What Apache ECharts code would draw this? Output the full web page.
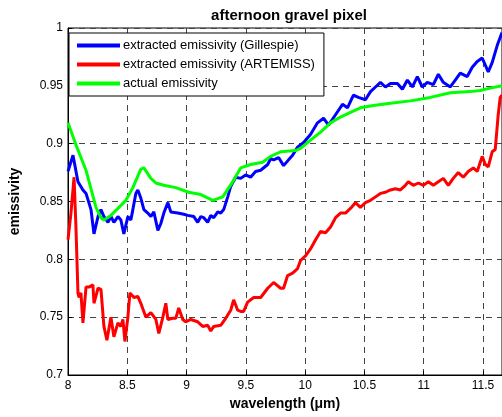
<!DOCTYPE html>
<html>
<head>
<meta charset="utf-8">
<script src="https://cdn.jsdelivr.net/npm/echarts@6/dist/echarts.min.js"></script>
<style>
  html, body { margin: 0; padding: 0; background: #fff; }
  #chart { width: 502px; height: 417px; }
</style>
</head>
<body>
<div id="chart"></div>
<script>
// wavelength (um) / emissivity pairs
const gillespie = [
  [8.000, 0.876], [8.042, 0.890], [8.084, 0.867], [8.126, 0.860], [8.152, 0.857],
  [8.194, 0.843], [8.219, 0.822], [8.253, 0.837], [8.278, 0.843], [8.303, 0.837],
  [8.337, 0.832], [8.362, 0.837], [8.387, 0.832], [8.421, 0.837], [8.446, 0.834],
  [8.471, 0.822], [8.505, 0.837], [8.530, 0.834], [8.547, 0.843], [8.572, 0.857],
  [8.589, 0.860], [8.614, 0.853], [8.640, 0.843], [8.673, 0.840], [8.699, 0.837],
  [8.724, 0.841], [8.758, 0.825], [8.783, 0.831], [8.808, 0.840], [8.842, 0.849],
  [8.867, 0.841], [8.926, 0.840], [8.976, 0.839], [9.010, 0.838], [9.061, 0.837],
  [9.094, 0.832], [9.120, 0.837], [9.145, 0.836], [9.178, 0.832], [9.204, 0.838],
  [9.229, 0.836], [9.263, 0.841], [9.288, 0.840], [9.313, 0.843], [9.347, 0.854],
  [9.372, 0.863], [9.414, 0.871], [9.456, 0.870], [9.498, 0.873], [9.540, 0.871],
  [9.582, 0.876], [9.625, 0.877], [9.684, 0.882], [9.709, 0.887], [9.734, 0.886],
  [9.776, 0.888], [9.818, 0.881], [9.860, 0.886], [9.894, 0.890], [9.936, 0.897],
  [9.987, 0.901], [10.045, 0.908], [10.104, 0.918], [10.155, 0.922], [10.197, 0.916],
  [10.256, 0.925], [10.315, 0.934], [10.357, 0.931], [10.407, 0.942], [10.449, 0.940],
  [10.508, 0.938], [10.551, 0.945], [10.593, 0.949], [10.635, 0.953], [10.677, 0.949],
  [10.719, 0.952], [10.778, 0.952], [10.820, 0.947], [10.862, 0.955], [10.904, 0.949],
  [10.946, 0.958], [10.988, 0.949], [11.030, 0.953], [11.081, 0.951], [11.123, 0.960],
  [11.165, 0.953], [11.224, 0.949], [11.266, 0.955], [11.308, 0.961], [11.367, 0.958],
  [11.409, 0.966], [11.451, 0.971], [11.493, 0.974], [11.519, 0.968], [11.544, 0.962],
  [11.577, 0.970], [11.620, 0.985], [11.645, 0.992], [11.660, 0.996]
];

const artemiss = [
  [8.000, 0.817], [8.025, 0.840], [8.051, 0.871], [8.067, 0.828], [8.084, 0.771],
  [8.093, 0.767], [8.109, 0.771], [8.126, 0.745], [8.152, 0.776], [8.177, 0.776],
  [8.210, 0.778], [8.219, 0.762], [8.253, 0.775], [8.278, 0.774], [8.303, 0.742],
  [8.328, 0.730], [8.362, 0.750], [8.387, 0.733], [8.421, 0.745], [8.446, 0.742],
  [8.463, 0.748], [8.480, 0.729], [8.505, 0.750], [8.522, 0.771], [8.556, 0.767],
  [8.589, 0.768], [8.614, 0.762], [8.657, 0.750], [8.699, 0.754], [8.741, 0.748],
  [8.766, 0.736], [8.800, 0.750], [8.825, 0.762], [8.842, 0.748], [8.884, 0.749],
  [8.909, 0.749], [8.934, 0.758], [8.968, 0.748], [8.993, 0.746], [9.035, 0.748],
  [9.094, 0.746], [9.136, 0.742], [9.178, 0.743], [9.204, 0.738], [9.229, 0.742],
  [9.288, 0.743], [9.330, 0.749], [9.372, 0.756], [9.397, 0.765], [9.431, 0.756],
  [9.456, 0.755], [9.481, 0.755], [9.515, 0.763], [9.566, 0.767], [9.625, 0.767],
  [9.684, 0.775], [9.734, 0.780], [9.793, 0.775], [9.818, 0.775], [9.852, 0.786],
  [9.894, 0.788], [9.936, 0.792], [9.961, 0.799], [10.003, 0.803], [10.045, 0.809],
  [10.088, 0.817], [10.130, 0.824], [10.172, 0.823], [10.214, 0.828], [10.256, 0.836],
  [10.298, 0.840], [10.340, 0.840], [10.382, 0.844], [10.424, 0.849], [10.466, 0.845],
  [10.508, 0.849], [10.551, 0.851], [10.593, 0.854], [10.635, 0.857], [10.677, 0.858],
  [10.719, 0.860], [10.761, 0.861], [10.803, 0.860], [10.845, 0.864], [10.870, 0.867],
  [10.912, 0.864], [10.955, 0.866], [10.997, 0.864], [11.039, 0.867], [11.081, 0.864],
  [11.123, 0.867], [11.165, 0.870], [11.207, 0.864], [11.249, 0.870], [11.291, 0.875],
  [11.333, 0.871], [11.375, 0.876], [11.418, 0.879], [11.451, 0.876], [11.493, 0.889],
  [11.519, 0.882], [11.544, 0.880], [11.577, 0.893], [11.603, 0.895], [11.628, 0.925],
  [11.645, 0.940], [11.660, 0.942]
];

const actual = [
  [8.000, 0.918], [8.067, 0.899], [8.152, 0.877], [8.236, 0.845], [8.278, 0.836],
  [8.303, 0.834], [8.362, 0.838], [8.488, 0.851], [8.547, 0.862], [8.614, 0.878],
  [8.640, 0.879], [8.699, 0.870], [8.741, 0.866], [8.808, 0.864], [8.909, 0.862],
  [9.018, 0.858], [9.120, 0.856], [9.221, 0.851], [9.305, 0.854], [9.389, 0.867],
  [9.456, 0.879], [9.540, 0.882], [9.641, 0.884], [9.709, 0.889], [9.793, 0.893],
  [9.919, 0.894], [9.961, 0.896], [10.045, 0.903], [10.130, 0.910], [10.214, 0.918],
  [10.298, 0.923], [10.382, 0.927], [10.466, 0.931], [10.576, 0.933], [10.719, 0.935],
  [10.887, 0.937], [11.056, 0.940], [11.224, 0.944], [11.392, 0.945], [11.476, 0.946],
  [11.561, 0.948], [11.660, 0.950]
];

const seriesNames = [
  'extracted emissivity (Gillespie)',
  'extracted emissivity (ARTEMISS)',
  'actual emissivity'
];

const font = 'Liberation Sans, Arial, sans-serif';

const myChart = echarts.init(document.getElementById('chart'));

const mkLine = (name, data, color) => ({
  name: name,
  type: 'line',
  data: data,
  showSymbol: false,
  symbol: 'none',
  smooth: false,
  lineStyle: { color: color, width: 3 },
  itemStyle: { color: color },
  z: 3
});

const option = {
  animation: false,
  backgroundColor: '#fff',
  title: {
    text: 'afternoon gravel pixel',
    left: 284,
    textAlign: 'center',
    top: 3,
    textStyle: { fontFamily: font, fontSize: 15, fontWeight: 'bold', color: '#000' }
  },
  legend: {
    data: seriesNames,
    orient: 'vertical',
    left: 69,
    top: 33,
    padding: [6, 9, 6, 8],
    itemGap: 6,
    itemWidth: 43,
    itemHeight: 4,
    icon: 'rect',
    backgroundColor: '#fff',
    borderColor: '#000',
    borderWidth: 1,
    borderRadius: 0,
    textStyle: { fontFamily: font, fontSize: 13, color: '#000', padding: [0, 0, 0, -2] }
  },
  grid: {
    left: 67,
    right: 0,
    top: 28,
    bottom: 42,
    show: true,
    borderColor: '#000',
    borderWidth: 1
  },
  xAxis: {
    type: 'value',
    min: 8,
    max: 11.66,
    interval: 0.5,
    name: 'wavelength (\u03bcm)',
    nameLocation: 'middle',
    nameGap: 15,
    nameTextStyle: { fontFamily: font, fontSize: 14, fontWeight: 'bold', color: '#000' },
    axisLine: { show: true, lineStyle: { color: '#000', width: 1 } },
    axisTick: { show: true, inside: true, length: 4, lineStyle: { color: '#000' } },
    axisLabel: { fontFamily: font, fontSize: 12, color: '#000', margin: 5, showMaxLabel: false },
    splitLine: { show: true, lineStyle: { color: '#444', width: 1, type: [6, 5] } }
  },
  yAxis: {
    type: 'value',
    min: 0.7,
    max: 1,
    interval: 0.05,
    name: 'emissivity',
    nameLocation: 'middle',
    nameGap: 46,
    nameTextStyle: { fontFamily: font, fontSize: 14, fontWeight: 'bold', color: '#000' },
    axisLine: { show: true, lineStyle: { color: '#000', width: 1 } },
    axisTick: { show: true, inside: true, length: 4, lineStyle: { color: '#000' } },
    axisLabel: { fontFamily: font, fontSize: 12, color: '#000', margin: 5 },
    splitLine: { show: true, lineStyle: { color: '#444', width: 1, type: [6, 5] } }
  },
  series: [
    mkLine(seriesNames[0], gillespie, '#0000ff'),
    mkLine(seriesNames[1], artemiss, '#ff0000'),
    mkLine(seriesNames[2], actual, '#00ff00')
  ]
};

option && myChart.setOption(option);
</script>
</body>
</html>
